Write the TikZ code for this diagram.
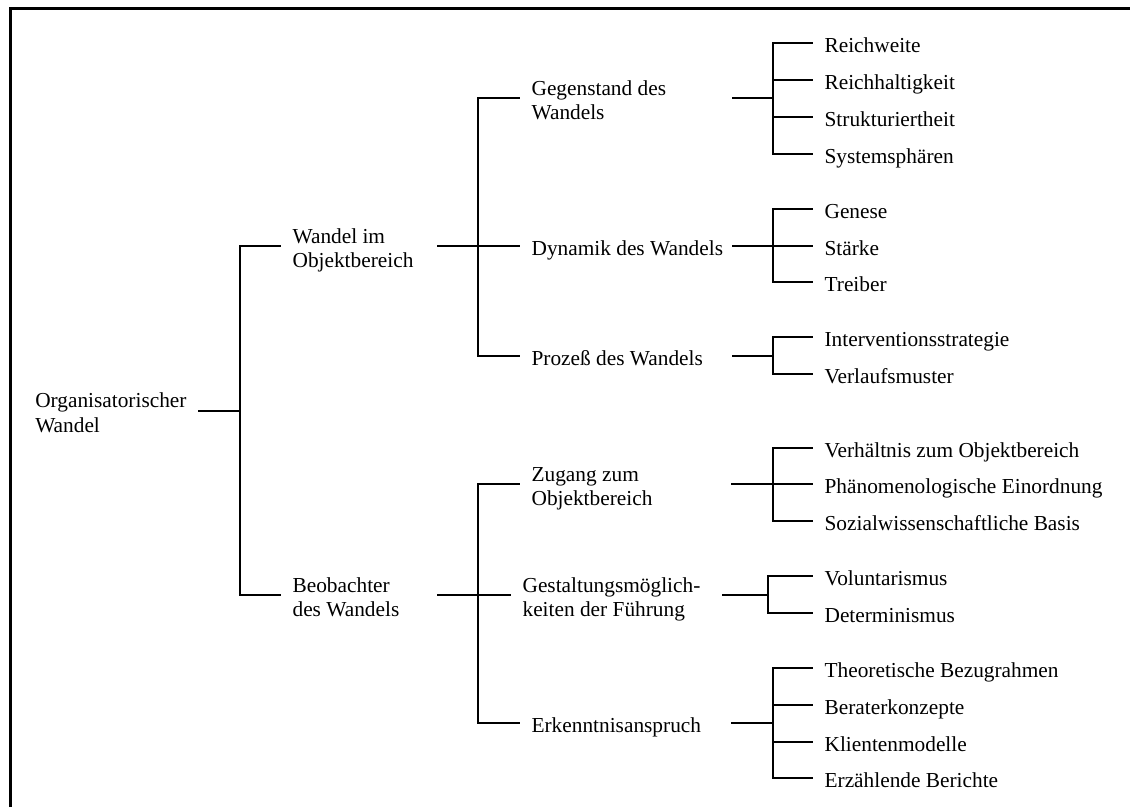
\documentclass[tikz,border=0pt]{standalone}
\usepackage{fontspec}
\setmainfont{Liberation Serif}
\begin{document}
\begin{tikzpicture}[x=0.75pt,y=-0.75pt,
  lbl/.style={anchor=west,inner ysep=0pt,inner xsep=8.5pt,align=left,
    text height=17.5pt,text depth=4pt,font=\fontsize{16}{18}\selectfont},
  lbltwo/.style={lbl,text height=35.5pt},
  branch/.style={line width=0.9pt},
  stem/.style={line width=1.5pt},
  frame/.style={line width=2.4pt}]
\useasboundingbox (0,0) rectangle (1130,807);
\draw[frame] (10.5,807) -- (10.5,8.7) -- (1130,8.7);

% root
\node[lbltwo,inner xsep=0pt,font=\fontsize{16}{19}\selectfont,text height=36.5pt] (root) at (35,411) {Organisatorischer\\Wandel};
\coordinate (r0) at (198,411);
\coordinate (j0) at (240,411);
\draw[branch] (r0) -- (j0);

% level 1
\node[lbltwo] (wob) at (281,246) {Wandel im\\Objektbereich};
\node[lbltwo] (beo) at (281,595) {Beobachter\\des Wandels};
\draw[branch] (j0) |- (wob.west);
\draw[branch] (j0) |- (beo.west);

% level 2 (upper)
\coordinate (wobR) at (437,246);
\coordinate (j1) at (478,246);
\draw[stem] (wobR) -- (j1);
\node[lbltwo] (geg) at (520,98) {Gegenstand des\\Wandels};
\node[lbl] (dyn) at (520,246) {Dynamik des Wandels};
\node[lbl] (pro) at (520,356) {Prozeß des Wandels};
\draw[branch] (j1) |- (geg.west);
\draw[branch] (j1) |- (dyn.west);
\draw[branch] (j1) |- (pro.west);

% level 2 (lower)
\coordinate (beoR) at (437,595);
\coordinate (j2) at (478,595);
\draw[stem] (beoR) -- (j2);
\node[lbltwo] (zug) at (520,484) {Zugang zum\\Objektbereich};
\node[lbltwo] (ges) at (511,595) {Gestaltungsmöglich-\\keiten der Führung};
\node[lbl] (erk) at (520,723) {Erkenntnisanspruch};
\draw[branch] (j2) |- (zug.west);
\draw[branch] (j2) |- (ges.west);
\draw[branch] (j2) |- (erk.west);

% Gegenstand leaves
\coordinate (gegR) at (732,98);
\coordinate (jg) at (773,98);
\draw[stem] (gegR) -- (jg);
\node[lbl] (l1) at (813,43) {Reichweite};
\node[lbl] (l2) at (813,80) {Reichhaltigkeit};
\node[lbl] (l3) at (813,117) {Strukturiertheit};
\node[lbl] (l4) at (813,154) {Systemsphären};
\foreach \n in {l1,l2,l3,l4} \draw[branch] (jg) |- (\n.west);

% Dynamik leaves
\coordinate (dynR) at (732,246);
\coordinate (jd) at (773,246);
\draw[stem] (dynR) -- (jd);
\node[lbl] (l5) at (813,209) {Genese};
\node[lbl] (l6) at (813,246) {Stärke};
\node[lbl] (l7) at (813,282) {Treiber};
\foreach \n in {l5,l6,l7} \draw[branch] (jd) |- (\n.west);

% Prozess leaves
\coordinate (proR) at (732,356);
\coordinate (jp) at (773,356);
\draw[stem] (proR) -- (jp);
\node[lbl] (l8) at (813,337) {Interventionsstrategie};
\node[lbl] (l9) at (813,374) {Verlaufsmuster};
\foreach \n in {l8,l9} \draw[branch] (jp) |- (\n.west);

% Zugang leaves
\coordinate (zugR) at (731,484);
\coordinate (jz) at (773,484);
\draw[stem] (zugR) -- (jz);
\node[lbl] (l10) at (813,448) {Verhältnis zum Objektbereich};
\node[lbl] (l11) at (813,484) {Phänomenologische Einordnung};
\node[lbl] (l12) at (813,521) {Sozialwissenschaftliche Basis};
\foreach \n in {l10,l11,l12} \draw[branch] (jz) |- (\n.west);

% Gestaltung leaves
\coordinate (gesR) at (722,595);
\coordinate (jgs) at (768,595);
\draw[stem] (gesR) -- (jgs);
\node[lbl] (l13) at (813,576) {Voluntarismus};
\node[lbl] (l14) at (813,613) {Determinismus};
\foreach \n in {l13,l14} \draw[branch] (jgs) |- (\n.west);

% Erkenntnis leaves
\coordinate (erkR) at (731,723);
\coordinate (je) at (773,723);
\draw[stem] (erkR) -- (je);
\node[lbl] (l15) at (813,668) {Theoretische Bezugrahmen};
\node[lbl] (l16) at (813,705) {Beraterkonzepte};
\node[lbl] (l17) at (813,742) {Klientenmodelle};
\node[lbl] (l18) at (813,778) {Erzählende Berichte};
\foreach \n in {l15,l16,l17,l18} \draw[branch] (je) |- (\n.west);
\end{tikzpicture}
\end{document}
